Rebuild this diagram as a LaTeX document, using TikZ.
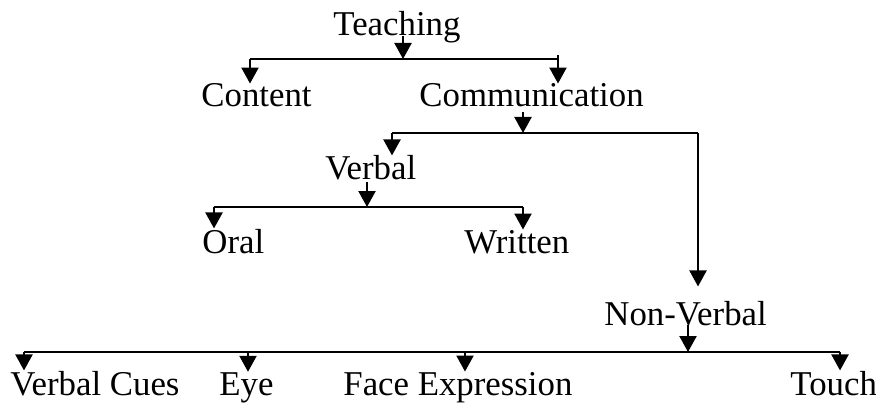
\documentclass[tikz,border=0pt]{standalone}
\usepackage{fontspec}
\setmainfont{Liberation Serif}
\usetikzlibrary{arrows.meta, calc}
\tikzset{
  lbl/.style={anchor=base west, inner sep=0pt, font=\fontsize{17.4}{20}\selectfont},
  arr/.style={-{Triangle[length=8pt, width=8.5pt]}, line width=1.1pt},
  bus/.style={line width=1.1pt}
}
\begin{document}
\begin{tikzpicture}[x=0.5pt, y=-0.5pt]
    \useasboundingbox (0,0) rectangle (876,406);

    % labels, placed at left end of their baseline
    \node[lbl] (teach) at (333,36) {Teaching};
    \node[lbl] (content) at (201,107) {Content};
    \node[lbl] (comm) at (419,107) {Communication};
    \node[lbl] (verbal) at (325,180) {Verbal};
    \node[lbl] (oral) at (202,253) {Oral};
    \node[lbl] (written) at (464,253) {Written};
    \node[lbl] (nonverbal) at (604,325) {Non-Verbal};
    \node[lbl] (cues) at (10,395) {Verbal Cues};
    \node[lbl] (eye) at (219,395) {Eye};
    \node[lbl] (face) at (343,395) {Face Expression};
    \node[lbl] (touch) at (790,395) {Touch};

    % bus points
    \coordinate (tb) at (403,59);
    \coordinate (tl) at (250,59);
    \coordinate (tr) at (558,59);
    \coordinate (cb) at (523,133);
    \coordinate (cl) at (392,133);
    \coordinate (cr) at (698,133);
    \coordinate (vb) at (367,207);
    \coordinate (vl) at (214,207);
    \coordinate (vr) at (523,207);
    \coordinate (nb) at (688,352);
    \coordinate (nl) at (24,352);
    \coordinate (ne) at (248,352);
    \coordinate (nf) at (465,352);
    \coordinate (nr) at (840,352);

    % teaching : content / communication
    \draw[arr] (tb |- teach.base) -- (tb);
    \draw[bus] (tl) -- (tr);
    \draw[arr] (tl) -- (tl |- content.north);
    \draw[arr] ($(tr)+(0,-4)$) -- (tr |- comm.north);

    % communication : verbal / non-verbal
    \draw[arr] ($(cb |- comm.base)+(0,5)$) -- (cb);
    \draw[bus] (cl) -- (cr);
    \draw[arr] (cl) -- (cl |- verbal.north);
    \draw[arr, shorten >=7pt] (cr) -- (cr |- nonverbal.north);

    % verbal : oral / written
    \draw[arr] ($(vb |- verbal.base)+(0,2)$) -- (vb);
    \draw[bus] (vl) -- (vr);
    \draw[arr] (vl) -- (vl |- oral.north);
    \draw[arr] (vr) -- (vr |- written.north);

    % non-verbal : four kinds
    \draw[arr] (nb |- nonverbal.base) -- (nb);
    \draw[bus] (nl) -- (nr);
    \draw[arr] (nl) -- (nl |- cues.north);
    \draw[arr] (ne) -- (ne |- eye.north);
    \draw[arr] (nf) -- (nf |- face.north);
    \draw[arr] (nr) -- (nr |- touch.north);
  \end{tikzpicture}
\end{document}
